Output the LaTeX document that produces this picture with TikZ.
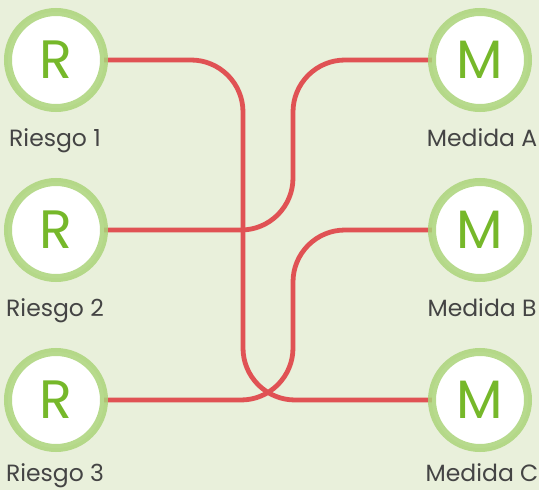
\documentclass[tikz,border=0pt]{standalone}
\usepackage{fontspec}
\setmainfont{Poppins}
\pgfdeclarelayer{bg}
\pgfsetlayers{bg,main}
\definecolor{bgc}{HTML}{E9F0DB}
\definecolor{ringc}{HTML}{ABD47A}
\definecolor{letterc}{HTML}{76B82A}
\definecolor{wirec}{HTML}{E05254}
\definecolor{labc}{HTML}{444444}
\begin{document}
\begin{tikzpicture}[x=1pt,y=-1pt,
  ball/.style={circle, minimum size=96pt, inner sep=0pt, line width=8pt, draw=ringc, draw opacity=0.85, fill=white, text=letterc, font=\fontsize{54}{60}\selectfont},
  lbl/.style={anchor=base, text=labc, font=\fontsize{23.5}{26}\selectfont, inner sep=0pt},
  link/.style={draw=wirec, line width=4.8pt, rounded corners=52pt}]
\useasboundingbox (0,0) rectangle (539,490);
\node[ball] (r1) at (56,60) {R};
\node[ball] (r2) at (56,230) {R};
\node[ball] (r3) at (56,400) {R};
\node[ball] (ma) at (480,60) {M};
\node[ball] (mb) at (480,230) {M};
\node[ball] (mc) at (480,400) {M};
\node[lbl] (lr1) at (55,146) {Riesgo 1};
\node[lbl] (lr2) at (55,316) {Riesgo 2};
\node[lbl] (lr3) at (55,481) {Riesgo 3};
\node[lbl] (lma) at (482,146) {Medida A};
\node[lbl] (lmb) at (482,316) {Medida B};
\node[lbl] (lmc) at (482,481) {Medida C};
\coordinate (k1) at (243,60);
\coordinate (k2) at (243,400);
\coordinate (k3) at (293,230);
\coordinate (k4) at (293,60);
\coordinate (k5) at (293,400);
\coordinate (k6) at (293,230);
\begin{pgfonlayer}{bg}
\fill[bgc] (0,0) rectangle (539,490);
\draw[link] (r1.center) -- (k1) -- (k2) -- (mc.center);
\draw[link] (r2.center) -- (k3) -- (k4) -- (ma.center);
\draw[link] (r3.center) -- (k5) -- (k6) -- (mb.center);
\end{pgfonlayer}
\end{tikzpicture}
\end{document}
